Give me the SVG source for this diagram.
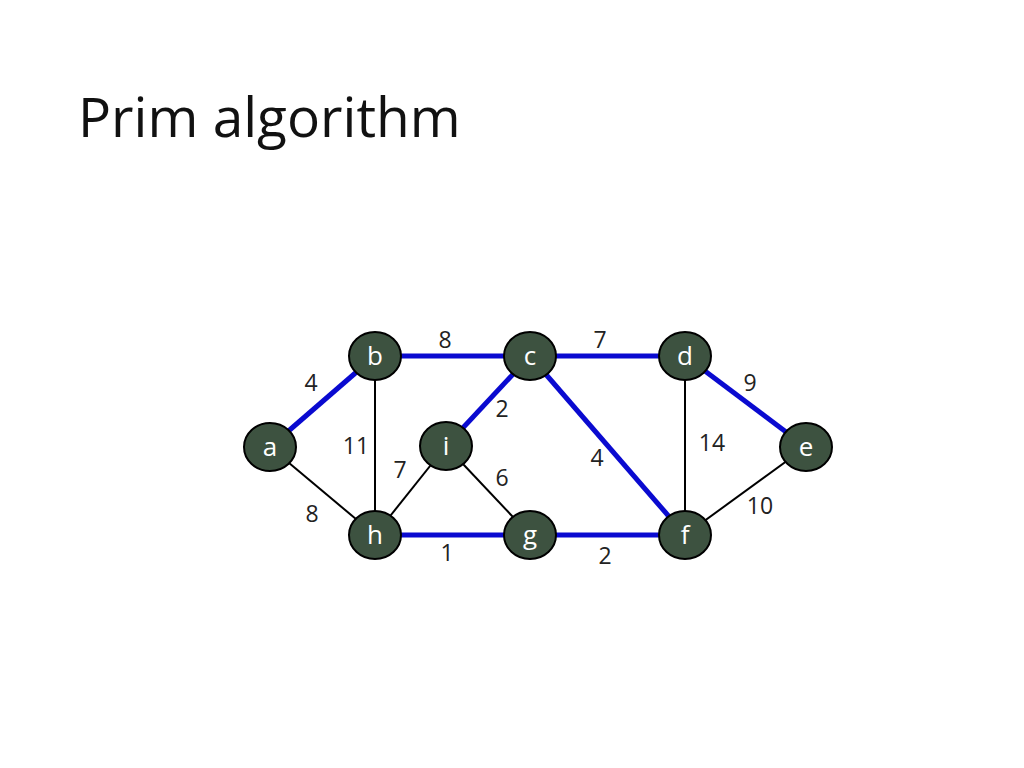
<svg xmlns="http://www.w3.org/2000/svg" width="1024" height="768" viewBox="0 0 1024 768">
<style>
.n{fill:#3d5240;stroke:#000;stroke-width:2}
.nl{font-family:"Open Sans","Noto Sans",sans-serif;font-size:26px;fill:#fff;text-anchor:middle}
.w{font-family:"Open Sans","Noto Sans",sans-serif;font-size:23px;fill:#222;text-anchor:middle}
.b{stroke:#0a0ad0;stroke-width:5}
.k{stroke:#000;stroke-width:2}
</style>
<rect width="1024" height="768" fill="#fff"/>
<text x="78" y="137" font-family="Open Sans,Noto Sans,sans-serif" font-size="55" fill="#111">Prim algorithm</text>
<g id="edges">
<line class="k" x1="270" y1="447" x2="375" y2="535"/>
<line class="k" x1="375" y1="356" x2="375" y2="535"/>
<line class="k" x1="375" y1="535" x2="446" y2="446"/>
<line class="k" x1="446" y1="446" x2="530" y2="535"/>
<line class="k" x1="685" y1="356" x2="685" y2="535"/>
<line class="k" x1="806" y1="447" x2="685" y2="535"/>
<line class="b" x1="270" y1="447" x2="375" y2="356"/>
<line class="b" x1="375" y1="356" x2="530" y2="356"/>
<line class="b" x1="530" y1="356" x2="685" y2="356"/>
<line class="b" x1="530" y1="356" x2="446" y2="446"/>
<line class="b" x1="530" y1="356" x2="685" y2="535"/>
<line class="b" x1="685" y1="356" x2="806" y2="447"/>
<line class="b" x1="375" y1="535" x2="530" y2="535"/>
<line class="b" x1="530" y1="535" x2="685" y2="535"/>
</g>
<g id="weights">
<text class="w" x="311" y="391">4</text>
<text class="w" x="445" y="348">8</text>
<text class="w" x="600" y="348">7</text>
<text class="w" x="750" y="391">9</text>
<text class="w" x="502" y="417">2</text>
<text class="w" x="356" y="454">11</text>
<text class="w" x="400" y="478">7</text>
<text class="w" x="502" y="486">6</text>
<text class="w" x="597" y="466">4</text>
<text class="w" x="712" y="451">14</text>
<text class="w" x="312" y="522">8</text>
<text class="w" x="760" y="514">10</text>
<text class="w" x="447" y="561">1</text>
<text class="w" x="605" y="564">2</text>
</g>
<g id="a"><ellipse class="n" cx="270" cy="447" rx="26" ry="24"/><text class="nl" x="270" y="456">a</text></g>
<g id="b"><ellipse class="n" cx="375" cy="356" rx="26" ry="24"/><text class="nl" x="375" y="365">b</text></g>
<g id="c"><ellipse class="n" cx="530" cy="356" rx="26" ry="24"/><text class="nl" x="530" y="365">c</text></g>
<g id="d"><ellipse class="n" cx="685" cy="356" rx="26" ry="24"/><text class="nl" x="685" y="365">d</text></g>
<g id="e"><ellipse class="n" cx="806" cy="447" rx="26" ry="24"/><text class="nl" x="806" y="456">e</text></g>
<g id="i"><ellipse class="n" cx="446" cy="446" rx="26" ry="24"/><text class="nl" x="446" y="455">i</text></g>
<g id="h"><ellipse class="n" cx="375" cy="535" rx="26" ry="24"/><text class="nl" x="375" y="544">h</text></g>
<g id="g"><ellipse class="n" cx="530" cy="535" rx="26" ry="24"/><text class="nl" x="530" y="544">g</text></g>
<g id="f"><ellipse class="n" cx="685" cy="535" rx="26" ry="24"/><text class="nl" x="685" y="544">f</text></g>
</svg>
